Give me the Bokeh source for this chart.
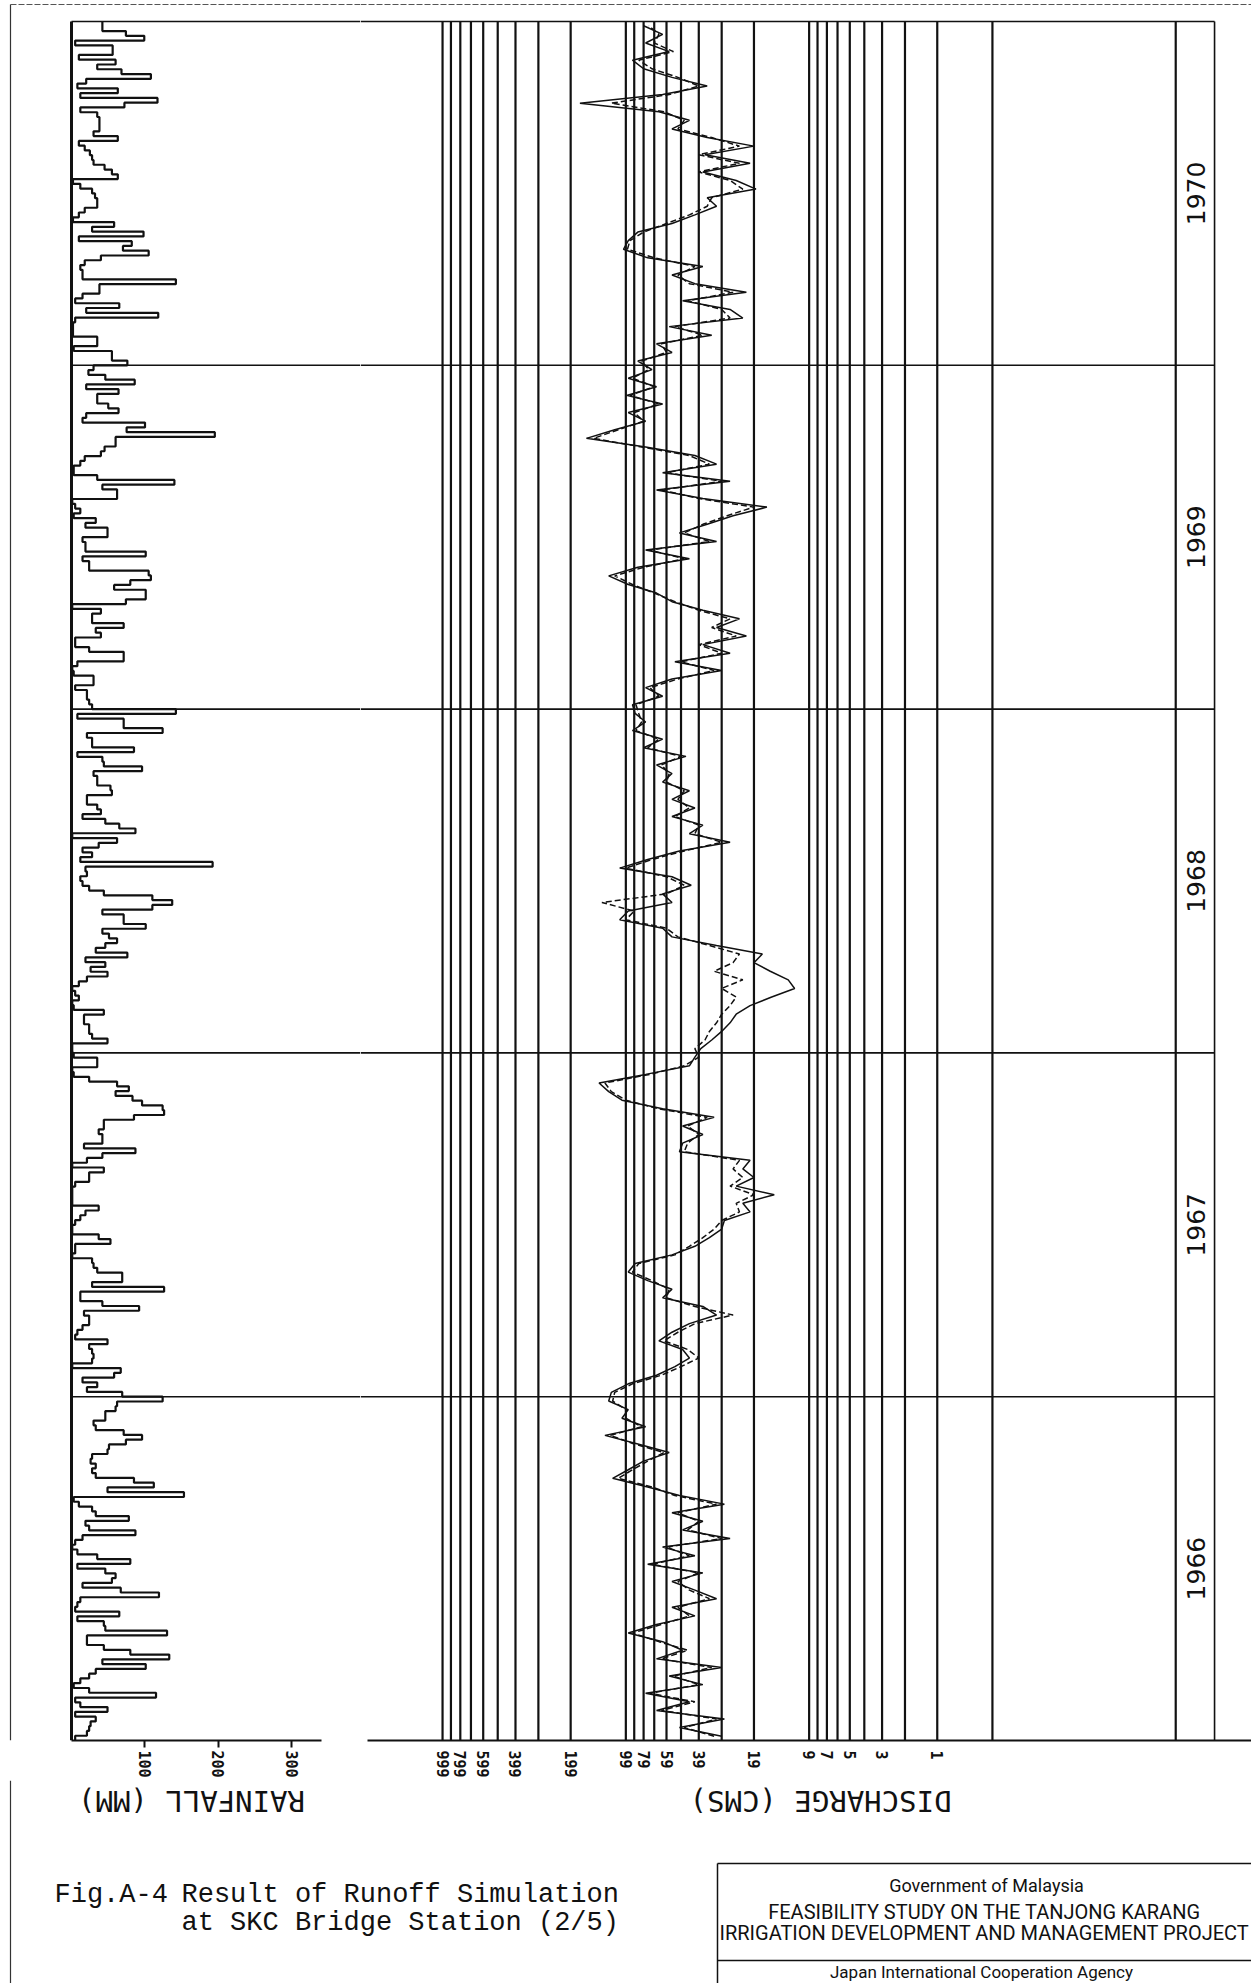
import math
from bokeh.plotting import figure
from bokeh.models import Range1d, FixedTicker
from bokeh.layouts import row, column
from bokeh.embed import file_html
from bokeh.resources import INLINE
from bokeh.core.properties import value

# ---------------- data ----------------
years = [1966, 1967, 1968, 1969, 1970]
year_labels = ["1966", "1967", "1968", "1969", "1970"]

# Rainfall (mm) per ~5-day period; each list is read from the top of its
# year band (late December) down to the bottom (early January).
rain_1970_td = [42, 42, 74, 99, 5, 56, 56, 10, 60, 35, 68, 108, 20, 8, 63, 12, 117, 72, 12, 35,
                38, 38, 38, 30, 63, 10, 18, 25, 28, 30, 45, 55, 63, 2, 12, 28, 32, 35, 35, 18,
                10, 2, 58, 28, 98, 10, 82, 70, 105, 40, 18, 12, 15, 15, 142, 38, 38, 15, 5, 65,
                20, 118, 5, 2, 2, 2, 35, 35, 3, 55, 55, 76]
rain_1969_td = [30, 23, 46, 86, 20, 64, 35, 35, 50, 64, 20, 15, 100, 75, 195, 60, 60, 45, 40, 18,
                12, 3, 3, 35, 140, 42, 62, 62, 1, 5, 12, 3, 33, 19, 49, 49, 15, 19, 19, 101,
                15, 24, 24, 105, 108, 80, 58, 101, 101, 74, 1, 40, 28, 28, 71, 33, 40, 5, 5, 24,
                71, 71, 8, 1, 3, 30, 30, 5, 21, 21, 24, 28]
rain_1968_td = [142, 8, 71, 71, 124, 21, 28, 28, 85, 8, 42, 44, 96, 30, 35, 35, 53, 55, 21, 21,
                35, 40, 15, 46, 65, 87, 1, 62, 37, 15, 28, 12, 192, 19, 21, 12, 15, 24, 44, 110,
                137, 110, 42, 71, 71, 101, 42, 51, 62, 46, 33, 76, 19, 46, 26, 49, 21, 10, 1, 5,
                10, 1, 3, 44, 17, 17, 24, 24, 28, 49, 1, 1]
rain_1967_td = [3, 35, 35, 1, 3, 24, 62, 78, 60, 83, 96, 124, 126, 85, 44, 44, 37, 42, 42, 17,
                87, 42, 21, 1, 44, 24, 24, 5, 1, 1, 1, 1, 37, 19, 12, 5, 1, 1, 37, 53,
                5, 5, 1, 28, 30, 35, 69, 69, 28, 126, 12, 12, 42, 92, 17, 24, 24, 15, 8, 5,
                49, 24, 28, 30, 28, 1, 67, 58, 15, 35, 21, 69]
rain_1966_td = [124, 62, 60, 46, 46, 30, 33, 71, 96, 74, 51, 49, 28, 26, 33, 28, 33, 85, 112, 49,
                153, 3, 10, 28, 33, 78, 19, 24, 87, 15, 5, 1, 8, 35, 80, 8, 46, 60, 55, 15,
                67, 119, 12, 8, 5, 65, 8, 44, 46, 130, 21, 21, 44, 80, 133, 42, 101, 33, 24, 12,
                3, 24, 115, 5, 12, 49, 5, 33, 26, 24, 21, 5]

# Discharge (CMS), observed (solid) and simulated (dashed), top-down per year band
obs_1970_td = [80, 63, 78, 58, 92, 80, 56, 36, 63, 178, 66, 45, 56, 36, 20, 37, 21, 38, 25, 19.5,
               36, 32, 42, 56, 86, 97, 103, 76, 38, 56, 42, 22, 49, 27, 23, 58, 34, 68, 56, 86]
sim_1970_td = [75, 66, 70, 55, 85, 72, 52, 40, 58, 120, 62, 48, 52, 34, 24, 40, 24, 40, 27, 23,
               34, 36, 45, 60, 80, 95, 98, 70, 42, 52, 45, 26, 46, 30, 27, 54, 38, 64, 60, 82]
obs_1969_td = [72, 97, 68, 99, 63, 97, 78, 115, 164, 78, 42, 32, 63, 27, 68, 38, 17, 26, 36, 51,
               32, 78, 45, 86, 124, 97, 68, 56, 38, 24, 32, 22, 38, 27, 54, 30, 56, 78, 63, 92]
sim_1969_td = [75, 92, 70, 95, 66, 90, 80, 110, 150, 82, 45, 35, 60, 30, 64, 40, 20, 28, 38, 48,
               35, 74, 48, 80, 115, 92, 70, 54, 40, 27, 34, 25, 40, 30, 50, 33, 52, 74, 66, 88]
obs_1968_td = [89, 78, 92, 63, 80, 47, 68, 56, 63, 45, 56, 42, 56, 38, 45, 27, 51, 76, 108, 56,
               44, 63, 56, 97, 108, 63, 56, 32, 18, 20, 16.3, 13, 12, 16, 21, 25, 27, 30, 34, 39]
sim_1968_td = [85, 82, 88, 66, 76, 50, 64, 58, 60, 48, 52, 45, 54, 40, 42, 30, 48, 72, 100, 60,
               48, 60, 135, 90, 100, 60, 52, 35, 24, 26, 33, 23, 30, 25, 27, 30, 32, 35, 37, 42]
obs_1967_td = [42, 45, 78, 140, 124, 105, 63, 33, 49, 38, 49, 51, 21, 23, 20, 25, 15.5, 23, 21, 29,
               30, 35, 42, 56, 89, 97, 76, 56, 63, 38, 32, 45, 56, 66, 49, 45, 54, 68, 97, 120]
sim_1967_td = [40, 48, 74, 130, 120, 100, 66, 36, 46, 40, 46, 48, 24, 26, 23, 27, 20, 25, 24, 30,
               33, 38, 45, 54, 85, 92, 72, 58, 60, 42, 26, 42, 52, 62, 46, 40, 50, 64, 92, 115]
obs_1966_td = [124, 97, 105, 78, 130, 86, 58, 80, 97, 118, 76, 51, 29, 56, 38, 49, 27, 63, 42, 76,
               38, 56, 42, 32, 56, 42, 68, 97, 63, 49, 68, 30, 58, 38, 78, 45, 68, 29, 51, 30]
sim_1966_td = [118, 100, 100, 82, 122, 90, 62, 76, 92, 110, 72, 54, 32, 52, 40, 46, 30, 60, 45, 72,
               40, 52, 45, 35, 52, 45, 64, 92, 66, 46, 64, 34, 55, 40, 74, 42, 64, 32, 48, 33]

rain_ticks = [100, 200, 300]
dis_ticks = [1000, 800, 600, 400, 200, 100, 80, 60, 40, 20, 10, 8, 6, 4, 2]
dis_tick_labels = ["999", "799", "599", "399", "199", "99", "79", "59", "39", "19",
                   "9", "7", "5", "3", "1"]
dis_grid = [1000, 900, 800, 700, 600, 500, 400, 300, 200, 100,
            90, 80, 70, 60, 50, 40, 30, 20, 10,
            9, 8, 7, 6, 5, 4, 3, 2, 1, 0.1]

rain_td = {1966: rain_1966_td, 1967: rain_1967_td, 1968: rain_1968_td,
           1969: rain_1969_td, 1970: rain_1970_td}
obs_td = {1966: obs_1966_td, 1967: obs_1967_td, 1968: obs_1968_td,
          1969: obs_1969_td, 1970: obs_1970_td}
sim_td = {1966: sim_1966_td, 1967: sim_1967_td, 1968: sim_1968_td,
          1969: sim_1969_td, 1970: sim_1970_td}

# ---------------- layout constants ----------------
MAIN_H = 1780
AXIS_PANEL = 40
PX_YEAR = 343.8
Y0 = 1966.0
Y1 = 1971.0 + 21.0 / PX_YEAR
RAIN_W = 360
DIS_W = 891
RAIN_RANGE = (-96.6, 393.2)
DIS_RANGE = (2803.0, 0.0386)
Q_RIGHT_BORDER = 0.0614
Q_YEAR_LABEL = 0.078
PAGE_TOP = 1971.0 + 17.0 / PX_YEAR
INK = "#111111"

# ---------------- rainfall panel ----------------
pr = figure(width=RAIN_W, height=MAIN_H, x_range=Range1d(*RAIN_RANGE),
            y_range=Range1d(Y0, Y1), toolbar_location=None, output_backend="svg",
            y_axis_location=None, min_border_left=0, min_border_right=0,
            min_border_top=0, min_border_bottom=AXIS_PANEL)
pr.grid.visible = False
pr.outline_line_color = None
pr.background_fill_color = "white"
pr.border_fill_color = "white"

rx, ry = [], []
for yr in years:
    vals = rain_td[yr][::-1]
    n = len(vals)
    for i, v in enumerate(vals):
        rx += [v, v]
        ry += [yr + i / n, yr + (i + 1) / n]
pr.line(rx, ry, line_color=INK, line_width=2.2)

# baseline, year separators, page border
pr.segment(x0=[0], y0=[Y0], x1=[0], y1=[1971.0], line_color=INK, line_width=3)
pr.segment(x0=[0] * 5, y0=[1967, 1968, 1969, 1970, 1971], x1=[RAIN_RANGE[1]] * 5,
           y1=[1967, 1968, 1969, 1970, 1971], line_color=INK, line_width=1.6)
pr.segment(x0=[-83], y0=[Y0], x1=[-83], y1=[PAGE_TOP], line_color="#333333", line_width=1.2)
pr.segment(x0=[-83], y0=[PAGE_TOP], x1=[RAIN_RANGE[1]], y1=[PAGE_TOP],
           line_color="#555555", line_width=1, line_dash="6 2")

ax = pr.xaxis[0]
ax.ticker = FixedTicker(ticks=rain_ticks)
ax.bounds = (0, 340)
ax.axis_line_color = INK
ax.axis_line_width = 2
ax.major_tick_out = 7
ax.major_tick_in = 0
ax.major_tick_line_width = 2
ax.major_tick_line_color = INK
ax.minor_tick_out = 0
ax.minor_tick_in = 0
ax.major_label_orientation = "vertical"
ax.major_label_standoff = 3
ax.major_label_text_font = "DejaVu Sans Mono"
ax.major_label_text_font_size = "15px"
ax.major_label_text_font_style = "bold"
ax.major_label_text_color = INK

# ---------------- discharge panel ----------------
pd_ = figure(width=DIS_W, height=MAIN_H, x_axis_type="log", x_range=Range1d(*DIS_RANGE),
             y_range=Range1d(Y0, Y1), toolbar_location=None, output_backend="svg",
             y_axis_location=None, min_border_left=0, min_border_right=0,
             min_border_top=0, min_border_bottom=AXIS_PANEL)
pd_.grid.visible = False
pd_.outline_line_color = None
pd_.background_fill_color = "white"
pd_.border_fill_color = "white"

# vertical log grid and right border
pd_.segment(x0=dis_grid, y0=[Y0] * len(dis_grid), x1=dis_grid, y1=[1971.0] * len(dis_grid),
            line_color=INK, line_width=2.2)
pd_.segment(x0=[Q_RIGHT_BORDER], y0=[Y0], x1=[Q_RIGHT_BORDER], y1=[1971.0],
            line_color=INK, line_width=1.6)
pd_.segment(x0=[DIS_RANGE[0]] * 5, y0=[1967, 1968, 1969, 1970, 1971],
            x1=[Q_RIGHT_BORDER] * 5, y1=[1967, 1968, 1969, 1970, 1971],
            line_color=INK, line_width=1.6)
pd_.segment(x0=[DIS_RANGE[0]], y0=[PAGE_TOP], x1=[DIS_RANGE[1]], y1=[PAGE_TOP],
            line_color="#555555", line_width=1, line_dash="6 2")

ox, oy, sx, sy = [], [], [], []
for yr in years:
    ov = obs_td[yr][::-1]
    sv = sim_td[yr][::-1]
    n = len(ov)
    for j in range(n):
        t = yr + (j + 0.5) / n
        ox.append(ov[j]); oy.append(t)
        sx.append(sv[j]); sy.append(t)
pd_.line(sx, sy, line_color=INK, line_width=1.5, line_dash="6 3")
pd_.line(ox, oy, line_color=INK, line_width=1.5)

pd_.text(x=[Q_YEAR_LABEL] * 5, y=[yr + 0.5 for yr in years], text=year_labels,
         angle=math.pi / 2, text_align="center", text_baseline="middle",
         text_font=value("DejaVu Sans"), text_font_size="25px", text_color=INK)

bx = pd_.xaxis[0]
bx.ticker = FixedTicker(ticks=dis_ticks)
bx.major_label_overrides = {t: s for t, s in zip(dis_ticks, dis_tick_labels)}
bx.bounds = (DIS_RANGE[1], 2565)
bx.axis_line_color = INK
bx.axis_line_width = 2
bx.major_tick_out = 0
bx.major_tick_in = 0
bx.major_tick_line_color = None
bx.minor_tick_out = 0
bx.minor_tick_in = 0
bx.minor_tick_line_color = None
bx.major_label_orientation = "vertical"
bx.major_label_standoff = 10
bx.major_label_text_font = "DejaVu Sans Mono"
bx.major_label_text_font_size = "15px"
bx.major_label_text_font_style = "bold"
bx.major_label_text_color = INK

# ---------------- footer ----------------
FOOT_H = 1983 - MAIN_H
pf = figure(width=1251, height=FOOT_H, x_range=Range1d(0, 1251), y_range=Range1d(FOOT_H, 0),
            toolbar_location=None, output_backend="svg", x_axis_location=None,
            y_axis_location=None, min_border=0)
pf.grid.visible = False
pf.outline_line_color = None
pf.background_fill_color = "white"
pf.border_fill_color = "white"

pf.segment(x0=[10], y0=[0], x1=[10], y1=[FOOT_H], line_color="#333333", line_width=1.2)
pf.text(x=[191, 820], y=[20, 20], text=["RAINFALL (MM)", "DISCHARGE (CMS)"], angle=math.pi,
        text_align="center", text_baseline="middle", text_font=value("DejaVu Sans Mono"),
        text_font_size="29px", text_color=INK)
pf.text(x=[54, 181, 181], y=[114, 114, 142],
        text=["Fig.A-4", "Result of Runoff Simulation", "at SKC Bridge Station (2/5)"],
        text_align="left", text_baseline="middle", text_font=value("Liberation Mono"),
        text_font_size="27px", text_color=INK)
# title block
BOX_TOP = 83
BOX_MID = 180
pf.segment(x0=[717, 717, 717], y0=[BOX_TOP, BOX_TOP, BOX_MID], x1=[1251, 717, 1251],
           y1=[BOX_TOP, FOOT_H, BOX_MID], line_color=INK, line_width=1.5)
pf.text(x=[986], y=[105], text=["Government of Malaysia"], text_align="center",
        text_baseline="middle", text_font=value("Roboto"),
        text_font_size="18px", text_color=INK)
pf.text(x=[984, 984], y=[131, 152],
        text=["FEASIBILITY STUDY ON THE TANJONG KARANG",
              "IRRIGATION DEVELOPMENT AND MANAGEMENT PROJECT"],
        text_align="center", text_baseline="middle", text_font=value("Roboto"),
        text_font_size="20px", text_color=INK)
pf.text(x=[981], y=[191], text=["Japan International Cooperation Agency"], text_align="center",
        text_baseline="middle", text_font=value("Roboto"),
        text_font_size="17px", text_color=INK)

layout = column(row(pr, pd_, spacing=0), pf, spacing=0)
open("out.html", "w").write(file_html(layout, INLINE))
